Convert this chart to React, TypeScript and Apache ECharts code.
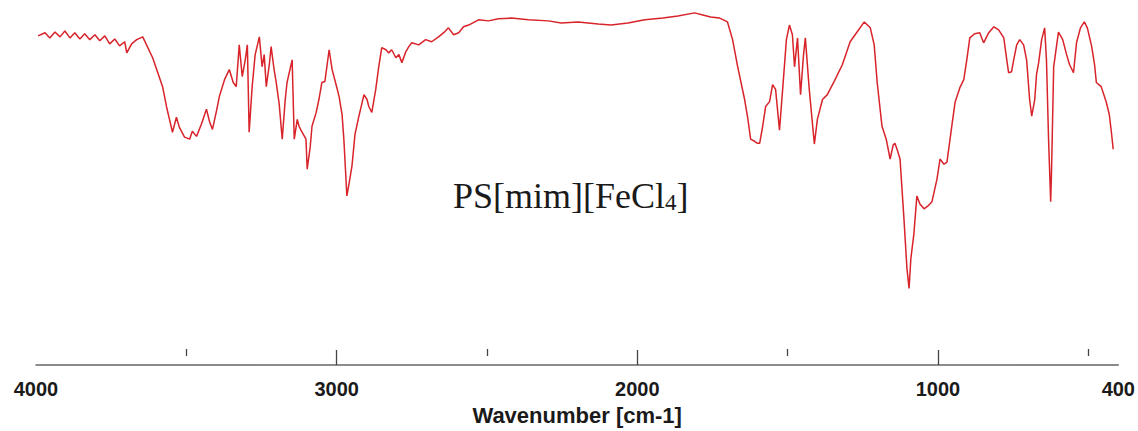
import React, { useEffect, useRef } from "react";
import * as echarts from "echarts";

// Wavenumber (cm-1) and transmittance (%)
const wavenumbers: number[] = [
  3993, 3970, 3954, 3937, 3920, 3904, 3887, 3871, 3854, 3838, 3821, 3804, 3788, 3771, 3755, 3738, 3722, 3705, 3698, 3682,
  3665, 3645, 3612, 3596, 3579, 3566, 3556, 3546, 3533, 3523, 3506, 3489, 3480, 3466, 3450, 3433, 3423, 3413, 3400, 3390,
  3373, 3357, 3344, 3334, 3324, 3314, 3304, 3297, 3291, 3281, 3271, 3257, 3248, 3241, 3234, 3224, 3218, 3208, 3201, 3191,
  3181, 3171, 3165, 3148, 3141, 3131, 3125, 3115, 3102, 3098, 3088, 3082, 3068, 3059, 3049, 3039, 3025, 3015, 3002, 2992,
  2982, 2976, 2966, 2959, 2949, 2939, 2926, 2909, 2899, 2893, 2883, 2870, 2860, 2850, 2836, 2827, 2817, 2803, 2793, 2783,
  2770, 2760, 2750, 2727, 2704, 2684, 2661, 2644, 2628, 2611, 2594, 2578, 2561, 2528, 2495, 2462, 2419, 2362, 2296, 2253,
  2197, 2130, 2087, 2031, 1975, 1915, 1865, 1809, 1782, 1756, 1726, 1700, 1683, 1666, 1643, 1633, 1623, 1610, 1600, 1593,
  1583, 1573, 1560, 1550, 1540, 1527, 1514, 1504, 1494, 1484, 1477, 1467, 1457, 1447, 1441, 1428, 1411, 1401, 1384, 1368,
  1345, 1318, 1292, 1269, 1245, 1225, 1212, 1202, 1186, 1172, 1159, 1149, 1143, 1136, 1126, 1113, 1103, 1096, 1090, 1080,
  1070, 1060, 1046, 1033, 1020, 1003, 993, 980, 970, 953, 943, 927, 914, 904, 894, 878, 861, 848, 831, 814,
  798, 781, 771, 765, 755, 748, 738, 728, 715, 705, 695, 688, 678, 672, 665, 655, 645, 639, 632, 625,
  622, 615, 605, 599, 585, 572, 562, 549, 539, 526, 513, 503, 489, 479, 473, 457, 440, 430, 423, 417,
];

const transmittance: number[] = [
  92.0, 92.9, 91.4, 93.1, 91.7, 93.4, 91.4, 92.9, 91.1, 92.6, 90.9, 92.3, 90.6, 92.0, 89.7, 91.1, 89.1, 90.3, 87.1, 89.7,
  90.9, 91.7, 85.7, 81.7, 77.4, 71.7, 68.0, 64.3, 68.6, 65.7, 62.9, 62.3, 64.6, 63.1, 66.6, 70.9, 67.4, 65.1, 70.3, 74.6,
  79.4, 82.3, 78.6, 77.4, 89.4, 80.3, 85.1, 89.4, 64.3, 77.4, 86.6, 91.7, 83.1, 86.6, 77.4, 83.7, 88.9, 82.3, 78.6, 72.3,
  62.3, 73.7, 78.6, 85.1, 62.3, 68.0, 66.0, 64.3, 62.3, 53.7, 60.0, 66.0, 70.0, 73.7, 78.6, 78.9, 88.0, 82.3, 78.0, 74.6,
  69.4, 62.3, 46.0, 49.4, 54.6, 63.7, 68.9, 75.1, 73.7, 71.7, 70.0, 76.6, 83.1, 88.6, 88.0, 87.1, 88.0, 85.7, 86.6, 84.3,
  87.4, 88.9, 90.0, 89.4, 90.9, 90.3, 91.7, 92.9, 94.3, 92.3, 92.9, 94.6, 95.1, 96.6, 96.3, 96.9, 97.1, 96.6, 96.3, 95.7,
  96.0, 95.4, 95.1, 95.7, 96.6, 97.1, 97.7, 98.6, 98.0, 97.4, 97.1, 96.0, 90.9, 83.1, 73.7, 68.6, 62.3, 61.7, 61.1, 61.1,
  66.0, 71.7, 73.1, 78.0, 76.6, 64.9, 79.4, 90.9, 95.1, 92.3, 83.1, 91.4, 75.1, 86.6, 91.4, 76.6, 60.9, 68.0, 73.7, 75.1,
  78.9, 83.7, 90.3, 93.1, 96.0, 94.3, 89.4, 78.6, 66.0, 62.3, 56.6, 60.6, 61.1, 59.4, 56.6, 39.4, 25.1, 19.4, 28.0, 35.1,
  46.0, 43.7, 42.3, 43.1, 44.3, 50.9, 56.6, 55.1, 55.7, 66.6, 72.9, 77.1, 79.4, 85.1, 91.4, 92.6, 92.9, 90.0, 92.9, 94.6,
  93.7, 91.4, 85.1, 81.4, 81.7, 85.1, 89.4, 90.9, 89.4, 85.1, 73.7, 68.9, 73.7, 80.9, 84.3, 90.9, 94.3, 85.1, 62.3, 44.3,
  53.7, 83.1, 89.4, 93.1, 90.9, 86.6, 83.7, 81.4, 90.0, 94.3, 96.0, 94.3, 89.1, 83.7, 78.6, 77.4, 72.9, 69.4, 64.3, 59.4,
];

const majorLabels: number[] = [4000, 3000, 2000, 1000, 400];
const majorTicks: number[] = [3000, 2000, 1000];
const minorTicks: number[] = [3500, 2500, 1500, 500];

const axisTitle = "Wavenumber [cm-1]";
const sampleLabel = "PS[mim][FeCl";
const sampleSub = "4";

export default function App() {
  const ref = useRef<HTMLDivElement>(null);

  useEffect(() => {
    if (!ref.current) return;
    const chart = echarts.init(ref.current, undefined, { renderer: "svg" });
    const data = wavenumbers.map((w, i) => [w, transmittance[i]]);
    chart.setOption({
      animation: false,
      backgroundColor: "#ffffff",
      grid: { left: 36, right: 19, top: 8, bottom: 64 },
      xAxis: [
        {
          type: "value",
          inverse: true,
          min: 400,
          max: 4000,
          position: "bottom",
          name: axisTitle,
          nameLocation: "middle",
          nameGap: 39,
          nameTextStyle: {
            fontFamily: "Liberation Sans, Arial, sans-serif",
            fontWeight: "bold",
            fontSize: 22,
            color: "#1a1a1a",
          },
          axisLine: { show: true, onZero: false, lineStyle: { color: "#666", width: 1.5 } },
          axisTick: {
            show: true,
            inside: true,
            length: 15,
            customValues: majorTicks,
            lineStyle: { color: "#444", width: 1.3 },
          },
          axisLabel: {
            show: true,
            customValues: majorLabels,
            formatter: (v: number) => String(v),
            margin: 14,
            fontFamily: "Liberation Sans, Arial, sans-serif",
            fontWeight: "bold",
            fontSize: 20,
            color: "#1a1a1a",
          },
          splitLine: { show: false },
        },
        {
          type: "value",
          inverse: true,
          min: 400,
          max: 4000,
          position: "bottom",
          offset: 0,
          axisLine: { show: false },
          axisTick: {
            show: true,
            inside: true,
            length: 7,
            customValues: minorTicks,
            lineStyle: { color: "#444", width: 1.3 },
          },
          axisLabel: { show: false },
          splitLine: { show: false },
        },
      ],
      yAxis: {
        type: "value",
        min: -2.6,
        max: 100,
        show: false,
        splitLine: { show: false },
      },
      series: [
        {
          type: "line",
          data,
          xAxisIndex: 0,
          showSymbol: false,
          symbol: "none",
          lineStyle: { color: "#d8232a", width: 1.5 },
          silent: true,
        },
      ],
      graphic: [
        {
          type: "text",
          left: 453,
          top: 178,
          style: {
            text: `{a|${sampleLabel}}{b|${sampleSub}}{a|]}`,
            rich: {
              a: {
                fontFamily: "Liberation Serif, Times New Roman, serif",
                fontSize: 36,
                fill: "#1a1a1a",
              },
              b: {
                fontFamily: "Liberation Serif, Times New Roman, serif",
                fontSize: 23,
                fill: "#1a1a1a",
                verticalAlign: "bottom",
              },
            },
          },
        },
      ],
    });
    return () => chart.dispose();
  }, []);

  return (
    <div
      ref={ref}
      style={{ position: "fixed", left: 0, top: 0, width: 1138, height: 431, background: "#fff" }}
    />
  );
}
